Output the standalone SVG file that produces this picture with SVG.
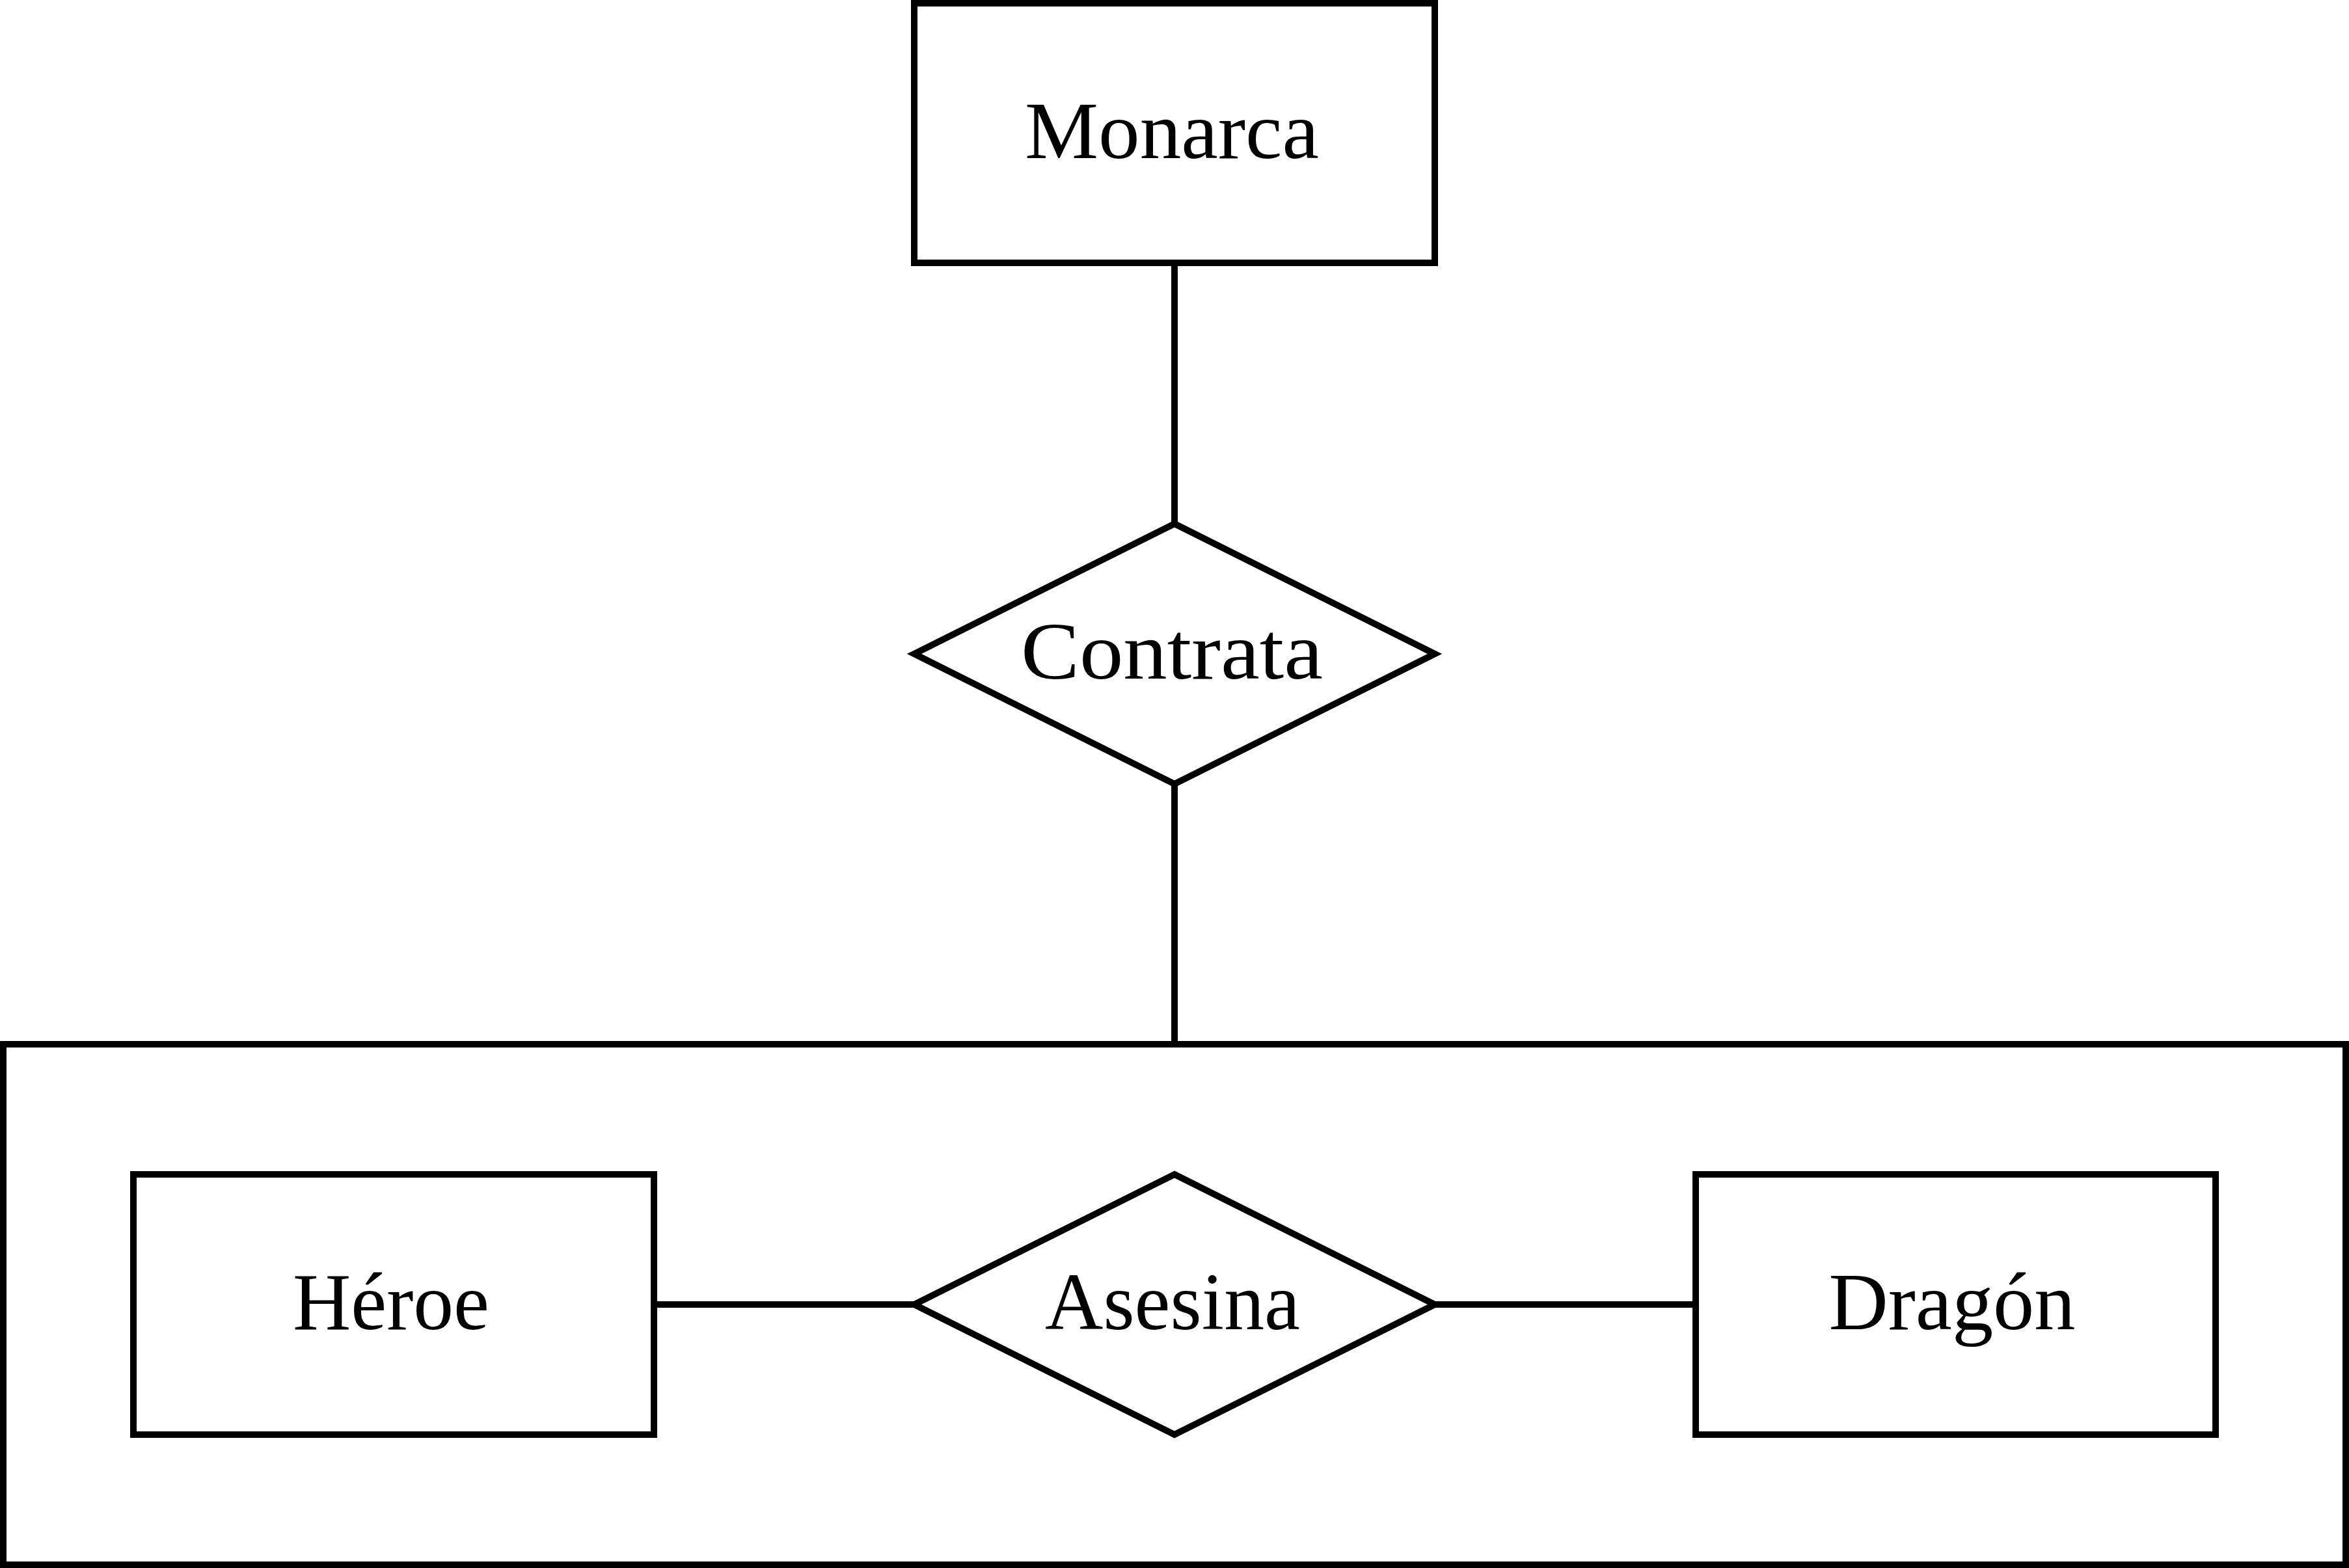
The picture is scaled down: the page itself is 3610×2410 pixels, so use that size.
<svg xmlns="http://www.w3.org/2000/svg" width="3610" height="2410" viewBox="0 0 3610 2410">
<style>
.shape{fill:#fff;stroke:#000;stroke-width:10;stroke-linejoin:miter}
.edge{fill:none;stroke:#000;stroke-width:10}
.label{font-family:"Liberation Serif","DejaVu Serif",serif;font-size:124px;fill:#000;text-anchor:middle}
</style>
<rect width="3610" height="2410" fill="#fff"/>
<g id="aggregation">
<rect class="shape" x="5" y="1605" width="3600" height="800"/>
</g>
<g id="connectors">
<line class="edge" x1="1805" y1="404" x2="1805" y2="805"/>
<line class="edge" x1="1805" y1="1205" x2="1805" y2="1605"/>
<line class="edge" x1="1005" y1="2005" x2="1405" y2="2005"/>
<line class="edge" x1="2205" y1="2005" x2="2606" y2="2005"/>
</g>
<g id="monarca">
<rect class="shape" x="1405" y="5" width="800" height="399"/>
<text class="label" x="1801" y="243" textLength="452" lengthAdjust="spacingAndGlyphs">Monarca</text>
</g>
<g id="contrata">
<polygon class="shape" points="1805,805 2205,1005 1805,1205 1405,1005"/>
<text class="label" x="1801" y="1043" textLength="464" lengthAdjust="spacingAndGlyphs">Contrata</text>
</g>
<g id="heroe">
<rect class="shape" x="205" y="1805" width="800" height="400"/>
<text class="label" x="601" y="2043" textLength="302" lengthAdjust="spacingAndGlyphs">Héroe</text>
</g>
<g id="asesina">
<polygon class="shape" points="1805,1805 2205,2005 1805,2205 1405,2005"/>
<text class="label" x="1802" y="2043" textLength="392" lengthAdjust="spacingAndGlyphs">Asesina</text>
</g>
<g id="dragon">
<rect class="shape" x="2606" y="1805" width="799" height="400"/>
<text class="label" x="3000" y="2043" textLength="379" lengthAdjust="spacingAndGlyphs">Dragón</text>
</g>
</svg>
